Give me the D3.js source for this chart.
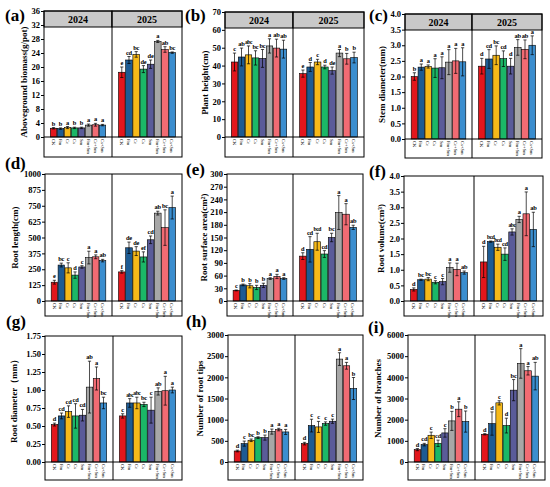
<!DOCTYPE html>
<html>
<head>
<meta charset="utf-8">
<script src="https://cdn.jsdelivr.net/npm/d3@7"></script>
<style>
  body { margin: 0; background: #fff; }
  text { font-family: 'Liberation Serif', 'Times New Roman', serif; font-weight: bold; }
</style>
</head>
<body>
<div id="chart"></div>
<script>
const treatments = ['CK', 'Fm', 'Ce', 'Cs', 'Sm', 'Fm+Sm', 'Ce+Sm', 'Cs+Sm'];
const colors = ['#e3161c', '#1d5b93', '#f6b919', '#1bb767', '#5a5b99', '#a7a7a7', '#f16b73', '#3b8ecf'];
const years = ['2024', '2025'];

// each array: [2024 values, 2025 values]
const biomassMean = [[2.5, 2.4, 2.7, 2.6, 2.6, 3.4, 3.5, 3.4], [18.5, 22.0, 23.6, 19.4, 20.8, 27.3, 25.0, 24.1]];
const biomassSd = [[0.2, 0.2, 0.3, 0.2, 0.2, 0.3, 0.4, 0.2], [1.5, 1.0, 0.8, 1.0, 1.2, 0.3, 0.8, 0.2]];
const biomassSig = [['b', 'b', 'a', 'b', 'b', 'a', 'a', 'a'], ['e', 'cd', 'bc', 'de', 'de', 'a', 'ab', 'bc']];

const heightMean = [[42.0, 44.8, 46.0, 44.3, 44.0, 51.0, 49.8, 49.2], [35.5, 39.2, 42.0, 39.2, 37.2, 47.0, 43.8, 44.5]];
const heightSd = [[5, 5, 5, 4, 5, 4, 5, 5], [2, 2.5, 1.5, 1, 2, 2, 3, 3]];
const heightSig = [['c', 'ab', 'abc', 'bc', 'bc', 'a', 'ab', 'ab'], ['e', 'd', 'c', 'd', 'de', 'a', 'b', 'b']];

const stemMean = [[2.0, 2.3, 2.32, 2.27, 2.28, 2.46, 2.5, 2.47], [2.33, 2.56, 2.68, 2.57, 2.33, 2.93, 2.87, 3.0]];
const stemSd = [[0.12, 0.1, 0.05, 0.3, 0.35, 0.4, 0.4, 0.45], [0.25, 0.3, 0.3, 0.25, 0.25, 0.25, 0.3, 0.3]];
const stemSig = [['b', 'a', 'a', 'a', 'a', 'a', 'a', 'a'], ['d', 'cd', 'bc', 'cd', 'd', 'ab', 'ab', 'a']];

const lengthMean = [[148, 283, 261, 204, 268, 342, 348, 318], [229, 419, 393, 347, 482, 692, 578, 736]];
const lengthSd = [[15, 15, 40, 25, 10, 50, 15, 10], [10, 45, 35, 40, 30, 15, 140, 90]];
const lengthSig = [['e', 'bc', 'c', 'd', 'c', 'a', 'a', 'ab'], ['f', 'de', 'de', 'ef', 'cd', 'ab', 'bc', 'a']];

const areaMean = [[25, 38, 36, 32, 37, 53, 58, 53], [106, 122, 140, 111, 150, 209, 205, 174]];
const areaSd = [[1, 2, 5, 5, 5, 2, 5, 2], [8, 30, 20, 8, 10, 40, 25, 5]];
const areaSig = [['c', 'b', 'b', 'b', 'b', 'a', 'a', 'a'], ['d', 'cd', 'bcd', 'cd', 'bc', 'a', 'a', 'ab']];

const volumeMean = [[0.37, 0.68, 0.70, 0.60, 0.62, 1.07, 1.01, 0.91], [1.25, 1.90, 1.72, 1.50, 2.21, 2.61, 2.79, 2.29]];
const volumeSd = [[0.05, 0.02, 0.05, 0.05, 0.1, 0.15, 0.2, 0.05], [0.5, 0.02, 0.1, 0.2, 0.1, 0.1, 0.7, 0.55]];
const volumeSig = [['d', 'bc', 'bc', 'c', 'c', 'a', 'a', 'ab'], ['d', 'bcd', 'bcd', 'cd', 'abc', 'a', 'a', 'ab']];

const diameterMean = [[0.52, 0.64, 0.70, 0.64, 0.65, 1.04, 1.16, 0.82], [0.64, 0.82, 0.82, 0.80, 0.72, 0.98, 0.99, 1.00]];
const diameterSd = [[0.02, 0.04, 0.08, 0.17, 0.08, 0.36, 0.16, 0.08], [0.03, 0.06, 0.08, 0.03, 0.18, 0.05, 0.2, 0.04]];
const diameterSig = [['d', 'cd', 'cd', 'cd', 'cd', 'ab', 'a', 'bc'], ['c', 'abc', 'abc', 'bc', 'c', 'ab', 'a', 'a']];

const tipsMean = [[260, 434, 513, 576, 576, 718, 766, 710], [434, 860, 829, 908, 963, 2431, 2273, 1736]];
const tipsSd = [[20, 60, 30, 20, 60, 60, 30, 60], [30, 150, 130, 40, 50, 150, 80, 260]];
const tipsSig = [['d', 'c', 'bc', 'b', 'b', 'a', 'a', 'a'], ['d', 'c', 'c', 'c', 'c', 'a', 'a', 'b']];

const branchMean = [[584, 821, 1263, 884, 1374, 1942, 2495, 1910], [1310, 1816, 2795, 1721, 3394, 4657, 4310, 4057]];
const branchSd = [[50, 60, 150, 150, 200, 450, 350, 500], [30, 550, 100, 350, 500, 700, 200, 650]];
const branchSig = [['d', 'cd', 'c', 'cd', 'c', 'b', 'a', 'b'], ['d', 'd', 'c', 'd', 'bc', 'a', 'a', 'ab']];

const panels = [
  { tag: '(a)', title: 'Aboveground biomass(g/pot)', mean: biomassMean, sd: biomassSd, sig: biomassSig,
    max: 36, step: 4, fmt: 'd', strip: true,
    x0: 44, xm: 112, x1: 182, yTop: 11, y0: 137, yBot: 157, tx: 25, lx: 5, ly: 21 },
  { tag: '(b)', title: 'Plant height(cm)', mean: heightMean, sd: heightSd, sig: heightSig,
    max: 70, step: 10, fmt: 'd', strip: true,
    x0: 225, xm: 293, x1: 364, yTop: 12, y0: 137, yBot: 157, tx: 206, lx: 185, ly: 21 },
  { tag: '(c)', title: 'Stem diameter(mm)', mean: stemMean, sd: stemSd, sig: stemSig,
    max: 4, step: 0.5, fmt: '.1f', strip: true,
    x0: 405, xm: 472, x1: 542, yTop: 14, y0: 139, yBot: 158, tx: 383, lx: 369, ly: 21 },
  { tag: '(d)', title: 'Root length(cm)', mean: lengthMean, sd: lengthSd, sig: lengthSig,
    max: 1000, step: 125, fmt: 'd', strip: false,
    x0: 45, xm: 112, x1: 182, yTop: 174, y0: 301, yBot: 316, tx: 16, lx: 5, ly: 169 },
  { tag: '(e)', title: 'Root surface area(cm²)', mean: areaMean, sd: areaSd, sig: areaSig,
    max: 300, step: 30, fmt: 'd', strip: false,
    x0: 227, xm: 293, x1: 363, yTop: 174, y0: 301, yBot: 316, tx: 205, lx: 186, ly: 175 },
  { tag: '(f)', title: 'Root volume(cm³)', mean: volumeMean, sd: volumeSd, sig: volumeSig,
    max: 4, step: 0.5, fmt: '.1f', strip: false,
    x0: 404, xm: 474, x1: 543, yTop: 176, y0: 301, yBot: 316, tx: 382, lx: 369, ly: 177 },
  { tag: '(g)', title: 'Root diameter（mm）', mean: diameterMean, sd: diameterSd, sig: diameterSig,
    max: 1.75, step: 0.25, fmt: '.2f', strip: false,
    x0: 45, xm: 113, x1: 182, yTop: 336, y0: 462, yBot: 480, tx: 15, lx: 6, ly: 327 },
  { tag: '(h)', title: 'Number of root tips', mean: tipsMean, sd: tipsSd, sig: tipsSig,
    max: 3000, step: 500, fmt: 'd', strip: false,
    x0: 228, xm: 295, x1: 363, yTop: 335, y0: 462, yBot: 480, tx: 201, lx: 186, ly: 327 },
  { tag: '(i)', title: 'Number of branches', mean: branchMean, sd: branchSd, sig: branchSig,
    max: 6000, step: 1000, fmt: 'd', strip: false,
    x0: 408, xm: 475, x1: 545, yTop: 335, y0: 462, yBot: 480, tx: 379, lx: 368, ly: 333 },
];

const svg = d3
  .select('#chart')
  .append('svg')
  .attr('width', 550)
  .attr('height', 487);

const drawPanel = (p) => {
  const g = svg.append('g');
  const y = d3.scaleLinear().domain([0, p.max]).range([p.y0, p.yTop]);
  const ticks = d3.range(0, p.max + p.step / 2, p.step);
  const stripH = 16;

  // y axis
  const axis = g
    .append('g')
    .attr('transform', `translate(${p.x0},0)`)
    .call(d3.axisLeft(y).tickValues(ticks).tickSize(3).tickFormat(d3.format(p.fmt)));
  axis.select('.domain').remove();
  axis.selectAll('line').attr('stroke', '#000');
  axis.selectAll('text').style('font-size', '8.5px').attr('fill', '#000').attr('x', -4);

  const facets = [[p.x0, p.xm], [p.xm, p.x1]];
  years.forEach((yr, k) => {
    const x = d3
      .scaleBand()
      .domain(treatments)
      .range(facets[k])
      .paddingInner(0.08)
      .paddingOuter(0.9);
    const rows = treatments.map((t, i) => ({
      t, i, v: p.mean[k][i], e: p.sd[k][i], s: p.sig[k][i],
    }));
    const cx = (d) => x(d.t) + x.bandwidth() / 2;

    g.selectAll(null)
      .data(rows)
      .enter()
      .append('rect')
      .attr('x', (d) => x(d.t))
      .attr('y', (d) => y(d.v))
      .attr('width', x.bandwidth())
      .attr('height', (d) => p.y0 - y(d.v))
      .attr('fill', (d) => colors[d.i])
      .attr('stroke', '#000')
      .attr('stroke-width', 0.6);

    // error bars
    g.selectAll(null)
      .data(rows)
      .enter()
      .append('path')
      .attr('d', (d) => {
        const c = cx(d);
        const lo = y(Math.max(0, d.v - d.e));
        const hi = y(d.v + d.e);
        return `M${c},${lo}V${hi}M${c - 1.6},${hi}H${c + 1.6}M${c - 1.6},${lo}H${c + 1.6}`;
      })
      .attr('stroke', '#000')
      .attr('stroke-width', 0.7)
      .attr('fill', 'none');

    // significance letters, three-letter groups set tighter
    g.selectAll(null)
      .data(rows)
      .enter()
      .append('text')
      .attr('x', cx)
      .attr('y', (d) => y(d.v + d.e) - 2)
      .attr('text-anchor', 'middle')
      .attr('fill', '#000')
      .style('font-size', (d) => (d.s.length > 2 ? '5.6px' : '6.4px'))
      .style('letter-spacing', (d) => (d.s.length > 2 ? '-0.45px' : '-0.2px'))
      .text((d) => d.s);

    // rotated treatment labels
    g.selectAll(null)
      .data(rows)
      .enter()
      .append('text')
      .attr('transform', (d) => `translate(${cx(d) - 1.8},${p.y0 + 2}) rotate(90)`)
      .attr('text-anchor', 'start')
      .style('font-size', '4.6px')
      .style('font-weight', 'normal')
      .text((d) => d.t);

    if (p.strip) {
      g.append('rect')
        .attr('x', facets[k][0])
        .attr('y', p.yTop)
        .attr('width', facets[k][1] - facets[k][0])
        .attr('height', stripH)
        .attr('fill', '#c9c9c9')
        .attr('stroke', '#000')
        .attr('stroke-width', 1);
      g.append('text')
        .attr('x', (facets[k][0] + facets[k][1]) / 2)
        .attr('y', p.yTop + stripH / 2 + 3.5)
        .attr('text-anchor', 'middle')
        .style('font-size', '10px')
        .text(yr);
    }
  });

  // zero line, frame and divider
  g.append('line')
    .attr('x1', p.x0).attr('x2', p.x1)
    .attr('y1', p.y0).attr('y2', p.y0)
    .attr('stroke', '#000').attr('stroke-width', 1);
  g.append('rect')
    .attr('x', p.x0).attr('y', p.yTop)
    .attr('width', p.x1 - p.x0).attr('height', p.yBot - p.yTop)
    .attr('fill', 'none').attr('stroke', '#000').attr('stroke-width', 1);
  g.append('line')
    .attr('x1', p.xm).attr('x2', p.xm)
    .attr('y1', p.yTop).attr('y2', p.yBot)
    .attr('stroke', '#000').attr('stroke-width', 1);

  const titleTop = p.strip ? p.yTop + stripH : p.yTop;
  g.append('text')
    .attr('transform', `translate(${p.tx},${(titleTop + p.y0) / 2}) rotate(-90)`)
    .attr('text-anchor', 'middle')
    .attr('dominant-baseline', 'middle')
    .style('font-size', '9px')
    .text(p.title);

  g.append('text')
    .attr('x', p.lx)
    .attr('y', p.ly)
    .style('font-size', '17px')
    .text(p.tag);
};

panels.forEach(drawPanel);
</script>
</body>
</html>
